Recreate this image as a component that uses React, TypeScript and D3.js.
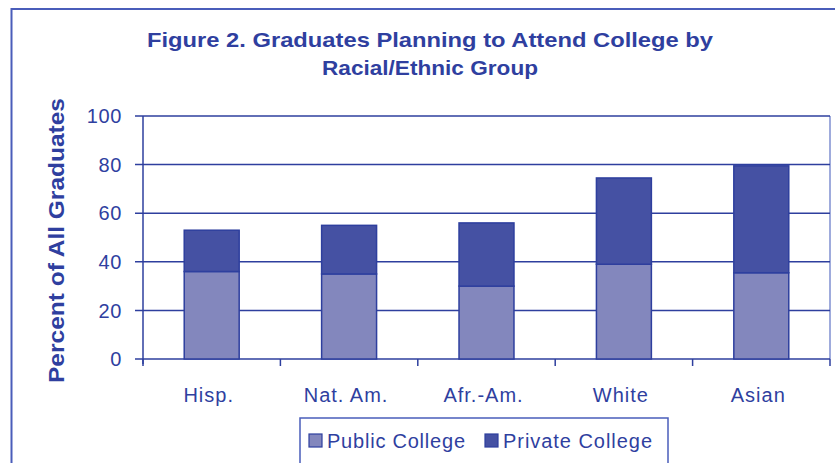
import React from "react";
import * as d3 from "d3";

const categories = ["Hisp.", "Nat. Am.", "Afr.-Am.", "White", "Asian"];
const publicCollege = [36, 35, 30, 39, 35.5];
const privateCollege = [17, 20, 26, 35.5, 44];
const yTicks = [0, 20, 40, 60, 80, 100];
const seriesNames = ["Public College", "Private College"];
const titleLines = ["Figure 2. Graduates Planning to Attend College by", "Racial/Ethnic Group"];
const yAxisTitle = "Percent of All Graduates";

const W = 835;
const H = 463;
const plot = { left: 143, right: 830, top: 116, bottom: 359 };
const fills = ["#8387BD", "#4551A3"];
const lineColor = "#2E3F9E";
const textColor = "#2F3F9F";
const font = "'Liberation Sans', Arial, sans-serif";

export default function App() {
  const x = d3
    .scaleBand<string>()
    .domain(categories)
    .range([plot.left, plot.right])
    .paddingInner(0.6)
    .paddingOuter(0.3);
  const y = d3.scaleLinear().domain([0, 100]).range([plot.bottom, plot.top]);

  const rows = categories.map((c, i) => ({
    cat: c,
    pub: publicCollege[i],
    priv: privateCollege[i],
  }));
  const stacked = d3.stack<any>().keys(["pub", "priv"])(rows);
  const step = x.step();
  const boundaries = d3.range(categories.length + 1).map((i) => plot.left + i * step);

  return (
    <div style={{ position: "fixed", left: 0, top: 0 }}>
      <svg width={W} height={H} style={{ display: "block", background: "#fff" }}>
        {/* outer frame */}
        <rect x={11.5} y={9} width={W + 10} height={H + 10} fill="none" stroke="#4A5DBA" strokeWidth={2} />

        {/* title */}
        <g fontFamily={font} fontWeight="bold" fill={textColor} fontSize={21} textAnchor="middle">
          <text x={430} y={47} textLength={566} lengthAdjust="spacingAndGlyphs">
            {titleLines[0]}
          </text>
          <text x={430} y={75} textLength={216} lengthAdjust="spacingAndGlyphs">
            {titleLines[1]}
          </text>
        </g>

        {/* y axis title */}
        <text
          transform={`translate(64, ${(98 + 383) / 2}) rotate(-90)`}
          textAnchor="middle"
          fontFamily={font}
          fontWeight="bold"
          fontSize={22}
          fill={textColor}
          textLength={285}
          lengthAdjust="spacingAndGlyphs"
        >
          {yAxisTitle}
        </text>

        {/* plot right border */}
        <line x1={plot.right} x2={plot.right} y1={plot.top} y2={plot.bottom} stroke="#7F8FD0" strokeWidth={1.5} />

        {/* gridlines */}
        {yTicks.map((t) => (
          <g key={t}>
            <line
              x1={plot.left - 8}
              x2={plot.right}
              y1={y(t)}
              y2={y(t)}
              stroke={lineColor}
              strokeWidth={1.5}
            />
            <text
              x={122}
              y={y(t)}
              dy="0.36em"
              textAnchor="end"
              fontFamily={font}
              fontSize={20}
              letterSpacing={0.6}
              fill={textColor}
            >
              {t}
            </text>
          </g>
        ))}

        {/* y axis */}
        <line x1={plot.left} x2={plot.left} y1={plot.top} y2={plot.bottom + 5} stroke={lineColor} strokeWidth={1.5} />

        {/* x ticks */}
        {boundaries.map((b, i) => (
          <line key={i} x1={b} x2={b} y1={plot.bottom} y2={plot.bottom + 7} stroke={lineColor} strokeWidth={1.5} />
        ))}

        {/* bars */}
        {stacked.map((s, si) => (
          <g key={si}>
            {s.map((d: any, i: number) => (
              <rect
                key={i}
                x={x(d.data.cat)!}
                y={y(d[1])}
                width={x.bandwidth()}
                height={y(d[0]) - y(d[1])}
                fill={fills[si]}
                stroke={lineColor}
                strokeWidth={1.5}
              />
            ))}
          </g>
        ))}

        {/* category labels */}
        {categories.map((c) => (
          <text
            key={c}
            x={x(c)! + x.bandwidth() / 2 - 3}
            y={402}
            textAnchor="middle"
            fontFamily={font}
            fontSize={20}
            letterSpacing={1}
            fill={textColor}
          >
            {c}
          </text>
        ))}

        {/* legend */}
        <rect x={300} y={418} width={368} height={60} fill="#fff" stroke="#4A5DBA" strokeWidth={1.5} />
        {seriesNames.map((n, i) => {
          const lx = i === 0 ? 309 : 485;
          const tl = i === 0 ? 138 : 149;
          return (
            <g key={n}>
              <rect x={lx} y={434} width={13} height={13} fill={fills[i]} stroke={lineColor} strokeWidth={1.2} />
              <text
                x={lx + 18}
                y={448}
                fontFamily={font}
                fontSize={20}
                fill={textColor}
                textLength={tl}
                lengthAdjust="spacing"
              >
                {n}
              </text>
            </g>
          );
        })}
      </svg>
    </div>
  );
}
